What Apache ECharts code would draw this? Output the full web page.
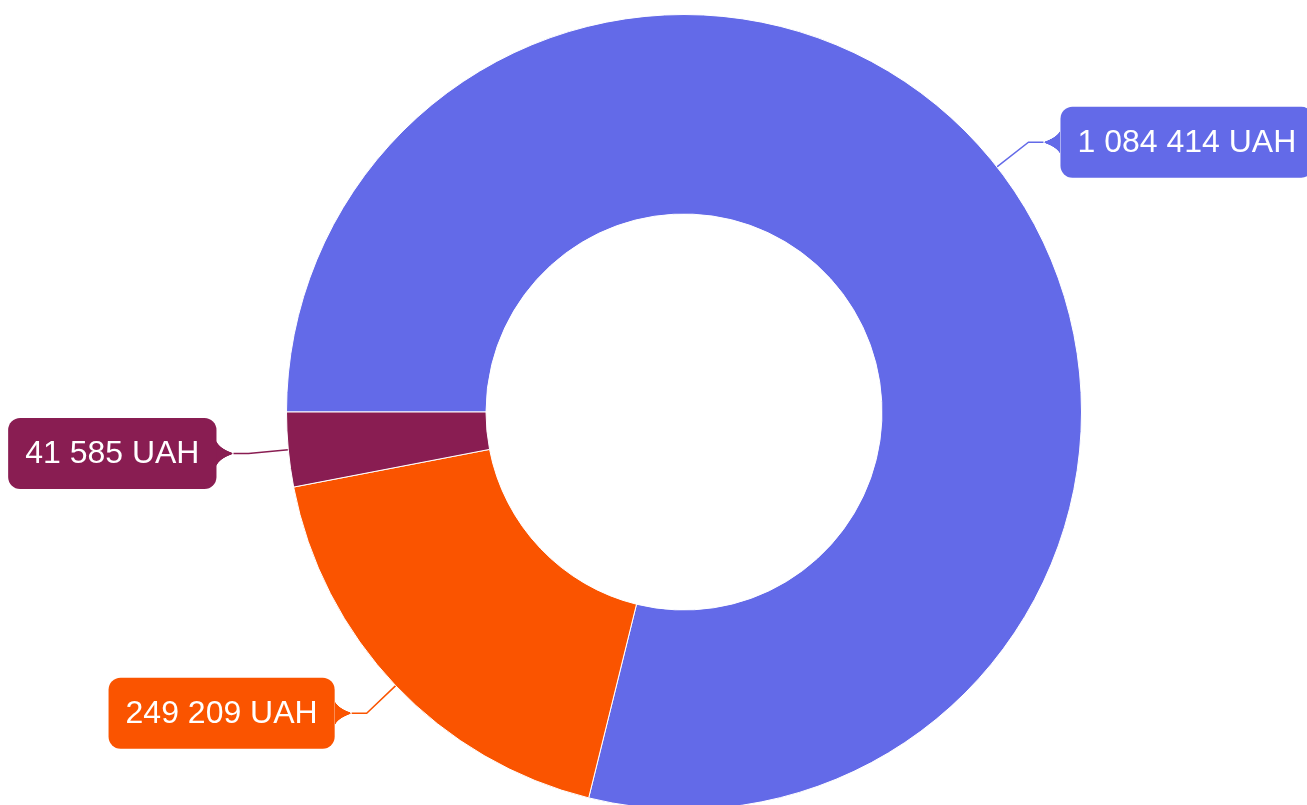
<!DOCTYPE html>
<html><head><meta charset="utf-8">
<script src="https://cdn.jsdelivr.net/npm/echarts@6/dist/echarts.min.js"></script>
<style>html,body{margin:0;padding:0;background:#fff}#c{width:1307px;height:805px}</style>
</head><body><div id="c"></div>
<script>
const categories = ['Item 1', 'Item 2', 'Item 3'];
const values = [1084414, 249209, 41585];
const colors = ['#636ae8', '#fa5400', '#891d52'];
const currency = 'UAH';

function fmt(v) { return String(v).replace(/\B(?=(\d{3})+(?!\d))/g, ' ') + ' ' + currency; }

function arrow(color, pointLeft) {
  const w = 17, h = 34, s = 3;
  const c = document.createElement('canvas'); c.width = w * s; c.height = h * s;
  const ctx = c.getContext('2d'); ctx.scale(s, s); ctx.fillStyle = color;
  ctx.beginPath();
  if (pointLeft) {
    ctx.moveTo(w + 1, 0); ctx.quadraticCurveTo(w + 1, h * 0.3, 2, h / 2 - 1);
    ctx.quadraticCurveTo(0, h / 2, 2, h / 2 + 1);
    ctx.quadraticCurveTo(w + 1, h * 0.7, w + 1, h);
  } else {
    ctx.moveTo(-1, 0); ctx.quadraticCurveTo(-1, h * 0.3, w - 2, h / 2 - 1);
    ctx.quadraticCurveTo(w, h / 2, w - 2, h / 2 + 1);
    ctx.quadraticCurveTo(-1, h * 0.7, -1, h);
  }
  ctx.closePath(); ctx.fill(); return c;
}

const startAngle = 180;
const total = values.reduce((a, b) => a + b, 0);
let cum = 0;
const data = values.map((v, i) => {
  const mid = startAngle - 360 * (cum + v / 2) / total;
  cum += v;
  const right = Math.cos(mid * Math.PI / 180) >= 0;
  const img = arrow(colors[i], right);
  const txt = fmt(v);
  return {
    name: categories[i], value: v,
    itemStyle: { color: colors[i] },
    label: {
      formatter: right ? '{a| }{b|' + txt + '}' : '{b|' + txt + '}{a| }',
      rich: {
        a: { width: 17, height: 34, fontSize: 10, verticalAlign: 'middle', backgroundColor: { image: img } },
        b: { backgroundColor: colors[i], color: '#fff', fontSize: 32, lineHeight: 36,
             fontFamily: 'Liberation Sans, Arial, sans-serif', padding: [20, 17, 19, 17],
             borderRadius: 12, verticalAlign: 'middle' }
      }
    }
  };
});

const chart = echarts.init(document.getElementById('c'));
chart.setOption({
  animation: false,
  series: [{
    type: 'pie',
    center: [684, 412],
    radius: [198, 397.5],
    startAngle: startAngle,
    clockwise: true,
    avoidLabelOverlap: false,
    itemStyle: { borderColor: '#fff', borderWidth: 1 },
    label: { show: true, position: 'outside', distanceToLabelLine: 0, overflow: 'none' },
    labelLine: { show: true, length: 40, length2: 15, lineStyle: { width: 1.5 } },
    emphasis: { disabled: true },
    data: data
  }]
});
</script></body></html>
